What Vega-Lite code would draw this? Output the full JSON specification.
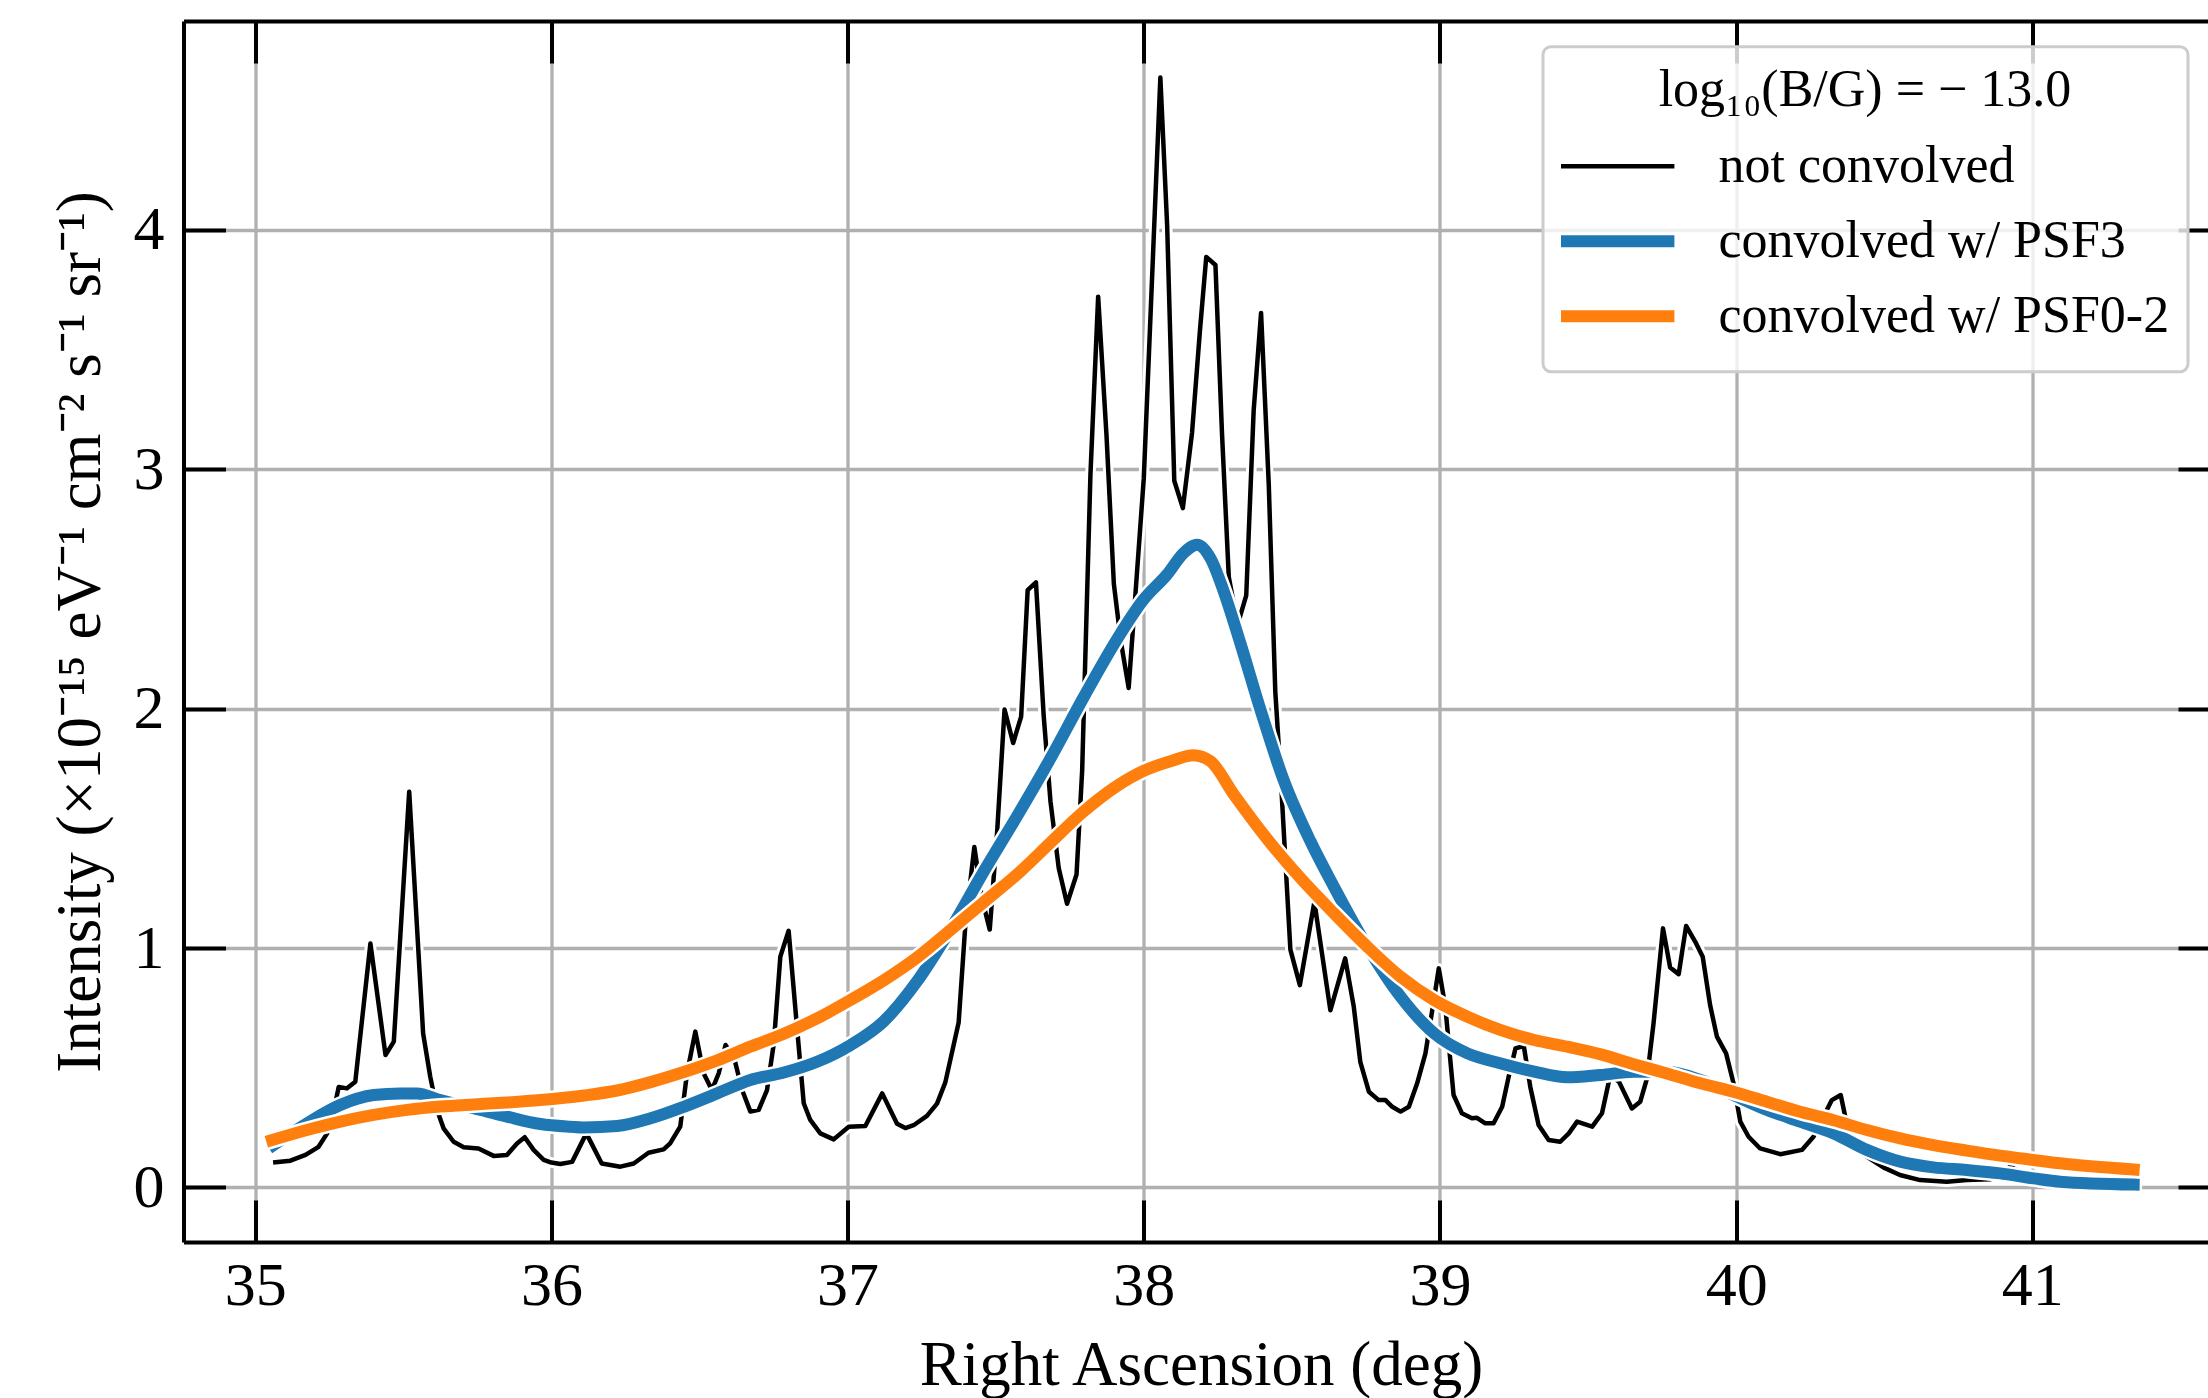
{
  "$schema": "https://vega.github.io/schema/vega-lite/v6.json",
  "width": 2024.5,
  "height": 1221,
  "autosize": {"type": "none"},
  "padding": {"left": 183.5, "top": 21, "right": 0, "bottom": 156},
  "background": "white",
  "config": {
    "view": {"stroke": null},
    "font": "Liberation Serif",
    "axis": {"labelColor": "black", "titleColor": "black", "domainColor": "black", "tickColor": "black", "labelFont": "Liberation Serif", "titleFont": "Liberation Serif"}
  },
  "datasets": {
    "black": [
      [35.068,0.105],[35.119,0.112],[35.17,0.136],[35.214,0.17],[35.243,0.226],[35.26,0.289],[35.282,0.42],[35.31,0.414],[35.338,0.442],[35.389,1.019],[35.44,0.553],[35.468,0.609],[35.52,1.653],[35.567,0.644],[35.591,0.463],[35.614,0.324],[35.636,0.247],[35.67,0.191],[35.704,0.168],[35.754,0.163],[35.805,0.132],[35.85,0.136],[35.884,0.184],[35.91,0.21],[35.94,0.157],[35.974,0.115],[36.0,0.104],[36.03,0.098],[36.07,0.107],[36.118,0.226],[36.17,0.1],[36.233,0.087],[36.278,0.1],[36.328,0.145],[36.379,0.159],[36.401,0.184],[36.435,0.254],[36.458,0.477],[36.486,0.651],[36.514,0.477],[36.542,0.407],[36.565,0.477],[36.588,0.595],[36.616,0.546],[36.644,0.407],[36.672,0.317],[36.7,0.324],[36.728,0.407],[36.751,0.602],[36.773,0.964],[36.801,1.072],[36.829,0.672],[36.852,0.352],[36.874,0.282],[36.908,0.226],[36.953,0.201],[37.004,0.254],[37.06,0.257],[37.117,0.393],[37.167,0.266],[37.195,0.248],[37.223,0.26],[37.268,0.299],[37.302,0.35],[37.33,0.439],[37.375,0.689],[37.398,1.103],[37.428,1.422],[37.454,1.205],[37.48,1.077],[37.505,1.486],[37.53,1.996],[37.559,1.856],[37.586,1.966],[37.608,2.494],[37.636,2.527],[37.662,1.971],[37.685,1.613],[37.713,1.333],[37.741,1.185],[37.773,1.307],[37.792,1.741],[37.82,2.979],[37.846,3.72],[37.874,3.145],[37.899,2.52],[37.923,2.277],[37.949,2.086],[38.0,2.96],[38.056,4.635],[38.079,4.015],[38.103,2.951],[38.132,2.837],[38.163,3.152],[38.19,3.584],[38.211,3.886],[38.242,3.852],[38.264,3.152],[38.287,2.55],[38.317,2.35],[38.346,2.473],[38.371,3.244],[38.396,3.652],[38.422,2.936],[38.444,2.072],[38.463,1.702],[38.495,0.993],[38.527,0.845],[38.576,1.193],[38.63,0.74],[38.68,0.957],[38.709,0.755],[38.731,0.525],[38.76,0.4],[38.793,0.365],[38.816,0.365],[38.839,0.337],[38.867,0.317],[38.895,0.337],[38.923,0.435],[38.951,0.56],[38.974,0.741],[38.996,0.915],[39.018,0.755],[39.046,0.386],[39.074,0.31],[39.108,0.289],[39.125,0.291],[39.153,0.268],[39.181,0.268],[39.21,0.337],[39.232,0.463],[39.255,0.581],[39.283,0.591],[39.305,0.42],[39.333,0.261],[39.367,0.198],[39.406,0.191],[39.435,0.226],[39.463,0.275],[39.514,0.254],[39.547,0.31],[39.575,0.47],[39.605,0.44],[39.648,0.33],[39.676,0.358],[39.699,0.456],[39.721,0.685],[39.753,1.082],[39.777,0.919],[39.806,0.891],[39.831,1.092],[39.862,1.026],[39.887,0.964],[39.912,0.762],[39.935,0.63],[39.966,0.56],[39.991,0.435],[40.014,0.275],[40.042,0.212],[40.081,0.163],[40.149,0.139],[40.222,0.157],[40.261,0.212],[40.295,0.296],[40.323,0.365],[40.353,0.386],[40.379,0.233],[40.407,0.157],[40.441,0.129],[40.497,0.084],[40.553,0.052],[40.621,0.031],[40.711,0.024],[40.779,0.031],[40.857,0.034],[40.891,0.052],[40.927,0.09],[40.959,0.059],[41.004,0.031],[41.094,0.015],[41.2,0.01],[41.342,0.008]
    ],
    "blue": [
      [35.063,0.178],[35.175,0.268],[35.288,0.345],[35.4,0.386],[35.49,0.393],[35.546,0.393],[35.625,0.365],[35.738,0.331],[35.85,0.296],[35.963,0.265],[36.064,0.254],[36.11,0.251],[36.222,0.257],[36.335,0.289],[36.447,0.337],[36.56,0.393],[36.672,0.449],[36.785,0.48],[36.897,0.525],[37.01,0.595],[37.122,0.694],[37.234,0.86],[37.347,1.077],[37.46,1.32],[37.572,1.55],[37.685,1.792],[37.797,2.047],[37.91,2.29],[38.0,2.456],[38.079,2.56],[38.135,2.65],[38.18,2.684],[38.225,2.628],[38.27,2.489],[38.326,2.273],[38.394,1.995],[38.472,1.702],[38.563,1.445],[38.642,1.256],[38.755,1.005],[38.867,0.797],[38.98,0.644],[39.093,0.56],[39.206,0.518],[39.318,0.484],[39.43,0.46],[39.543,0.47],[39.654,0.483],[39.766,0.483],[39.879,0.449],[39.991,0.386],[40.104,0.324],[40.216,0.275],[40.329,0.226],[40.441,0.157],[40.554,0.108],[40.666,0.084],[40.779,0.073],[40.891,0.059],[41.004,0.038],[41.094,0.024],[41.342,0.012]
    ],
    "orange": [
      [35.057,0.198],[35.175,0.24],[35.288,0.275],[35.4,0.303],[35.513,0.324],[35.625,0.338],[35.738,0.347],[35.85,0.355],[35.963,0.365],[36.11,0.384],[36.222,0.405],[36.335,0.44],[36.447,0.482],[36.56,0.531],[36.672,0.588],[36.785,0.642],[36.897,0.706],[37.01,0.783],[37.122,0.865],[37.234,0.96],[37.347,1.075],[37.46,1.192],[37.572,1.307],[37.685,1.44],[37.797,1.57],[37.91,1.677],[38.0,1.74],[38.09,1.78],[38.168,1.805],[38.225,1.78],[38.304,1.641],[38.416,1.456],[38.529,1.292],[38.642,1.145],[38.755,1.005],[38.867,0.88],[38.98,0.783],[39.093,0.713],[39.206,0.657],[39.318,0.616],[39.43,0.588],[39.543,0.556],[39.654,0.515],[39.766,0.476],[39.879,0.435],[39.991,0.4],[40.104,0.358],[40.216,0.316],[40.329,0.281],[40.441,0.24],[40.554,0.205],[40.666,0.177],[40.779,0.154],[40.891,0.133],[41.004,0.115],[41.094,0.101],[41.342,0.075]
    ]
  },
  "layer": [
    {
      "data": {"name": "black"},
      "transform": [{"calculate": "datum[0]", "as": "ra"}, {"calculate": "datum[1]", "as": "intensity"}],
      "mark": {"type": "line", "stroke": "white", "strokeWidth": 10.5, "strokeJoin": "round", "strokeCap": "square"},
      "encoding": {
        "x": {"field": "ra", "type": "quantitative", "scale": {"domain": [34.758, 41.593], "nice": false, "zero": false},
          "axis": {"orient": "bottom", "values": [35,36,37,38,39,40,41], "format": "d", "grid": true, "gridColor": "#b0b0b0", "gridWidth": 3.3, "gridOpacity": 1,
            "domain": true, "domainWidth": 4, "ticks": true, "tickWidth": 4, "tickSize": -42,
            "labelFontSize": 62, "labelBaseline": "alphabetic", "labelPadding": 104, "labelFlush": false, "labelOverlap": false,
            "title": "Right Ascension (deg)", "titleFontSize": 63, "titleFontWeight": "normal", "titleX": 1017.5, "titleY": 142, "titleBaseline": "alphabetic", "titleAlign": "center"}},
        "y": {"field": "intensity", "type": "quantitative", "scale": {"domain": [-0.2276, 4.871], "nice": false, "zero": false},
          "axis": {"orient": "left", "values": [0,1,2,3,4], "format": "d", "grid": true, "gridColor": "#b0b0b0", "gridWidth": 3.3, "gridOpacity": 1,
            "domain": true, "domainWidth": 4, "ticks": true, "tickWidth": 4, "tickSize": -42,
            "labelFontSize": 62, "labelAlign": "right", "labelBaseline": "middle", "labelPadding": 61.5, "labelFlush": false, "labelOverlap": false,
            "title": "Intensity (×10⁻¹⁵ eV⁻¹ cm⁻² s⁻¹ sr⁻¹)", "titleFontSize": 63, "titleFontWeight": "normal", "titleLimit": 2000, "titleX": -84.5, "titleY": 610.5, "titleAngle": 270, "titleBaseline": "alphabetic", "titleAlign": "center"}}
      }
    },
    {
      "data": {"name": "black"},
      "transform": [{"calculate": "datum[0]", "as": "ra"}, {"calculate": "datum[1]", "as": "intensity"}, {"calculate": "'not convolved'", "as": "series"}],
      "mark": {"type": "line", "strokeWidth": 4.5, "strokeJoin": "round", "strokeCap": "square"},
      "encoding": {
        "x": {"field": "ra", "type": "quantitative",
          "axis": {"orient": "top", "values": [35,36,37,38,39,40,41], "grid": false, "labels": false, "domain": true, "domainWidth": 4, "ticks": true, "tickWidth": 4, "tickSize": -42, "title": null}},
        "y": {"field": "intensity", "type": "quantitative",
          "axis": {"orient": "right", "values": [0,1,2,3,4], "grid": false, "labels": false, "domain": false, "ticks": true, "tickWidth": 4, "tickSize": -42, "offset": 12, "title": null}},
        "color": {"field": "series", "type": "nominal",
          "scale": {"domain": ["not convolved", "convolved w/ PSF3", "convolved w/ PSF0-2"], "range": ["#000000", "#1f77b4", "#ff7f0e"]},
          "legend": {"title": "log₁₀(B/G) = − 13.0", "orient": "none", "legendX": 1359.5, "legendY": 25.7, "zindex": 1,
            "symbolType": "M-2.175,0H2.175", "symbolSize": 3136, "symbolStrokeWidth": 12, "symbolOffset": 26.5,
            "labelFont": "Liberation Serif", "labelFontSize": 52, "labelColor": "black", "labelOffset": 79, "labelLimit": 2000,
            "titleFont": "Liberation Serif", "titleFontSize": 52, "titleFontWeight": "normal", "titleColor": "black", "titleAnchor": "middle", "titlePadding": 12, "titleLimit": 2000,
            "clipHeight": 75, "rowPadding": 0, "padding": 18,
            "fillColor": "rgba(255,255,255,0.8)", "strokeColor": "#cccccc", "cornerRadius": 8,
            "encode": {"symbols": {"update": {"strokeWidth": {"signal": "datum.value === 'not convolved' ? 4.5 : 12"}, "strokeCap": {"value": "butt"}}}, "legend": {"update": {"strokeWidth": {"value": 3}}}}}}
      }
    },
    {
      "data": {"name": "blue"},
      "transform": [{"calculate": "datum[0]", "as": "ra"}, {"calculate": "datum[1]", "as": "intensity"}],
      "mark": {"type": "line", "stroke": "white", "strokeWidth": 17, "strokeJoin": "round", "strokeCap": "square", "interpolate": "monotone"},
      "encoding": {
        "x": {"field": "ra", "type": "quantitative", "axis": null},
        "y": {"field": "intensity", "type": "quantitative", "axis": null}
      }
    },
    {
      "data": {"name": "blue"},
      "transform": [{"calculate": "datum[0]", "as": "ra"}, {"calculate": "datum[1]", "as": "intensity"}, {"calculate": "'convolved w/ PSF3'", "as": "series"}],
      "mark": {"type": "line", "strokeWidth": 12, "strokeJoin": "round", "strokeCap": "square", "interpolate": "monotone"},
      "encoding": {
        "x": {"field": "ra", "type": "quantitative", "axis": null},
        "y": {"field": "intensity", "type": "quantitative", "axis": null},
        "color": {"field": "series", "type": "nominal"}
      }
    },
    {
      "data": {"name": "orange"},
      "transform": [{"calculate": "datum[0]", "as": "ra"}, {"calculate": "datum[1]", "as": "intensity"}],
      "mark": {"type": "line", "stroke": "white", "strokeWidth": 17, "strokeJoin": "round", "strokeCap": "square", "interpolate": "monotone"},
      "encoding": {
        "x": {"field": "ra", "type": "quantitative", "axis": null},
        "y": {"field": "intensity", "type": "quantitative", "axis": null}
      }
    },
    {
      "data": {"name": "orange"},
      "transform": [{"calculate": "datum[0]", "as": "ra"}, {"calculate": "datum[1]", "as": "intensity"}, {"calculate": "'convolved w/ PSF0-2'", "as": "series"}],
      "mark": {"type": "line", "strokeWidth": 12, "strokeJoin": "round", "strokeCap": "square", "interpolate": "monotone"},
      "encoding": {
        "x": {"field": "ra", "type": "quantitative", "axis": null},
        "y": {"field": "intensity", "type": "quantitative", "axis": null},
        "color": {"field": "series", "type": "nominal"}
      }
    }
  ],
  "resolve": {"axis": {"x": "independent", "y": "independent"}}
}
